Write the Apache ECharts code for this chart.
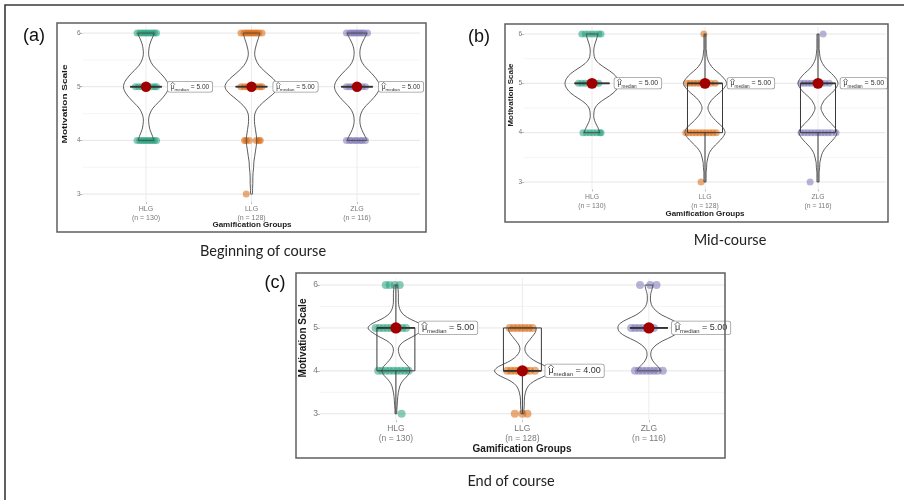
<!DOCTYPE html>
<html><head><meta charset="utf-8">
<script src="https://cdn.jsdelivr.net/npm/echarts@6/dist/echarts.min.js"></script>
<style>html,body{margin:0;padding:0;background:#fff}#c{width:904px;height:500px}</style>
</head><body><div id="c"></div>
<script>
// ---------------- data ----------------
const categories = ['HLG', 'LLG', 'ZLG'];
const nLabels = ['(n = 130)', '(n = 128)', '(n = 116)'];
const yTicks = [3, 4, 5, 6];
const yMinor = [3.5, 4.5, 5.5];
const panelLetters = ['(a)', '(b)', '(c)'];
const captions = ['Beginning of course', 'Mid-course', 'End of course'];
const xTitle = 'Gamification Groups';
const yTitle = 'Motivation Scale';

// medians, box quartiles, whisker ends per group (HLG, LLG, ZLG)
const medianA = [5, 5, 5];
const medianB = [5, 5, 5];
const medianC = [5, 4, 5];
const q1A = [5, 5, 5], q3A = [5, 5, 5], whiskLowA = [5, 5, 5], whiskHighA = [5, 5, 5];
const q1B = [5, 4, 4], q3B = [5, 5, 5], whiskLowB = [5, 3, 3], whiskHighB = [5, 6, 6];
const q1C = [4, 4, 5], q3C = [5, 5, 5], whiskLowC = [3, 3, 5], whiskHighC = [6, 5, 5];

// violin density levels (relative width, % of panel max) at these y values
const violinY = [3.0,3.1,3.2,3.3,3.4,3.5,3.6,3.7,3.8,3.9,4.0,4.1,4.2,4.3,4.4,4.5,4.6,4.7,4.8,4.9,5.0,5.1,5.2,5.3,5.4,5.5,5.6,5.7,5.8,5.9,6.0];
const violinA_HLG = [null,null,null,null,null,null,null,null,null,null,30,23,15,11,10,15,26,45,64,79,85,79,64,45,26,15,10,11,15,23,32];
const violinA_LLG = [4,4,5,5,6,8,9,12,15,18,20,18,15,12,11,13,23,42,66,89,100,91,70,47,28,17,12,14,19,26,31];
const violinA_ZLG = [null,null,null,null,null,null,null,null,null,null,38,28,18,12,11,15,26,45,64,79,85,79,64,45,26,15,11,12,18,28,38];
const violinB_HLG = [null,null,null,null,null,null,null,null,null,null,30,22,13,7,7,11,26,52,78,94,100,94,78,52,26,11,7,7,11,17,22];
const violinB_LLG = [4,4,4,6,7,11,17,30,48,65,74,67,48,30,17,11,17,31,52,70,80,70,52,31,17,9,6,4,4,4,4];
const violinB_ZLG = [4,4,4,6,7,11,17,29,46,62,70,63,46,29,17,11,17,30,50,66,74,66,50,30,17,9,6,4,4,4,4];
const violinC_HLG = [3,3,4,5,6,8,11,16,26,39,45,40,27,16,10,8,13,29,55,77,90,77,48,26,15,10,8,8,8,7,6];
const violinC_LLG = [5,5,6,6,7,10,15,26,48,77,90,77,48,26,13,8,11,21,32,42,45,null,null,null,null,null,null,null,null,null,null];
const violinC_ZLG = [null,null,null,null,null,null,null,null,null,null,39,29,16,8,6,10,23,45,74,94,100,94,71,42,23,11,6,5,6,10,13];

const dotsA_HLG = [[6,[-0.085,-0.06,-0.04,-0.02,0,0.02,0.04,0.06,0.08,0.1]],[5,[-0.1,-0.07,-0.04,-0.01,0.02,0.05,0.08,0.1]],[4,[-0.085,-0.06,-0.04,-0.02,0,0.02,0.04,0.06,0.08,0.1]]];
const dotsA_LLG = [[6,[-0.1,-0.07,-0.05,-0.03,-0.01,0.01,0.03,0.05,0.07,0.1]],[5,[-0.1,-0.07,-0.04,-0.01,0.02,0.05,0.08,0.1]],[4,[-0.066,-0.05,-0.02,0.045,0.07,0.083]],[3,[-0.05]]];
const dotsA_ZLG = [[6,[-0.1,-0.07,-0.05,-0.03,-0.01,0.01,0.03,0.05,0.07,0.1]],[5,[-0.1,-0.07,-0.04,-0.01,0.02,0.05,0.08]],[4,[-0.1,-0.07,-0.05,-0.02,0,0.03,0.05,0.08]]];
const dotsB_HLG = [[6,[-0.09,-0.06,-0.03,0,0.03,0.06,0.08]],[5,[-0.12,-0.09,-0.06,-0.03,0,0.03,0.06]],[4,[-0.08,-0.05,-0.02,0.01,0.04,0.07,0.08]]];
const dotsB_LLG = [[6,[-0.01]],[5,[-0.16,-0.13,-0.1,-0.07,-0.04,-0.01,0.02,0.05,0.09]],[4,[-0.17,-0.14,-0.11,-0.08,-0.05,-0.02,0.01,0.04,0.07,0.1]],[3,[-0.035]]];
const dotsB_ZLG = [[6,[0.045]],[5,[-0.15,-0.12,-0.09,-0.06,-0.03,0,0.03,0.06,0.1]],[4,[-0.15,-0.12,-0.09,-0.06,-0.03,0,0.03,0.06,0.09,0.12,0.16]],[3,[-0.07]]];
const dotsC_HLG = [[6,[-0.08,-0.05,-0.01,0.03]],[5,[-0.16,-0.13,-0.1,-0.07,-0.04,-0.01,0.02,0.05,0.08]],[4,[-0.14,-0.11,-0.08,-0.05,-0.02,0.01,0.04,0.07,0.1]],[3,[0.045]]];
const dotsC_LLG = [[5,[-0.1,-0.07,-0.04,-0.01,0.02,0.05,0.08]],[4,[-0.12,-0.09,-0.06,-0.03,0,0.03,0.06,0.1]],[3,[-0.06,0,0.04]]];
const dotsC_ZLG = [[6,[-0.07,0.01,0.06]],[5,[-0.14,-0.11,-0.08,-0.05,-0.02,0.01,0.04]],[4,[-0.11,-0.08,-0.05,-0.02,0.01,0.04,0.07,0.11]]];

// ---------------- assembly ----------------
const panels = [
  {med: medianA, q1: q1A, q3: q3A, wl: whiskLowA, wh: whiskHighA, vio: [violinA_HLG, violinA_LLG, violinA_ZLG], dots: [dotsA_HLG, dotsA_LLG, dotsA_ZLG]},
  {med: medianB, q1: q1B, q3: q3B, wl: whiskLowB, wh: whiskHighB, vio: [violinB_HLG, violinB_LLG, violinB_ZLG], dots: [dotsB_HLG, dotsB_LLG, dotsB_ZLG]},
  {med: medianC, q1: q1C, q3: q3C, wl: whiskLowC, wh: whiskHighC, vio: [violinC_HLG, violinC_LLG, violinC_ZLG], dots: [dotsC_HLG, dotsC_LLG, dotsC_ZLG]}
];
const layout = [
  {grid: {left: 82.7, top: 25, width: 337.6, height: 177.1}, frame: [57, 23, 369, 209], maxHW: 0.251, boxHW: 0.15, dotR: 3.5, midR: 5.2, gap: 6, f: 6.5, xf: 7, lh: 8.5, lm: 3, lf: 6.6,
   letter: [34, 36], cap: [263, 251], xt: [252, 225], yt: [65, 104], tf: 8, ys: 1.25},
  {grid: {left: 524.2, top: 26.6, width: 361.6, height: 162.8}, frame: [505, 24, 383, 198], maxHW: 0.239, boxHW: 0.155, dotR: 3.5, midR: 5.4, gap: 5, f: 6.5, xf: 6.8, lh: 9, lm: 3, lf: 7,
   letter: [479, 37], cap: [730, 240], xt: [705, 214], yt: [511, 95], tf: 8, ys: 1},
  {grid: {left: 320, top: 278.6, width: 404.8, height: 141.6}, frame: [296, 273, 429, 185], maxHW: 0.245, boxHW: 0.15, dotR: 4, midR: 5.6, gap: 4, f: 8.5, xf: 8.5, lh: 9.5, lm: 4, lf: 9,
   letter: [275, 283], cap: [511, 481], xt: [522, 449], yt: [303, 338], tf: 10, ys: 1}
];
const colors = ['#1B9E77', '#D95F02', '#7570B3'];
const FONT = 'Liberation Sans, Arial, sans-serif';

const grids = [], xAxes = [], yAxes = [], series = [], graphics = [];

graphics.push({type: 'rect', shape: {x: 5, y: 5, width: 1000, height: 1000}, style: {fill: 'none', stroke: '#3a3a3a', lineWidth: 1.6}, silent: true});

layout.forEach((L, pi) => {
  const P = panels[pi];
  grids.push(Object.assign({}, L.grid));
  xAxes.push({
    gridIndex: pi, type: 'value', min: 0.4, max: 3.6,
    axisLine: {show: false},
    axisTick: {show: true, customValues: [1, 2, 3], length: 2, lineStyle: {color: '#aaa', width: 0.8}},
    axisLabel: {customValues: [1, 2, 3], formatter: v => categories[Math.round(v) - 1] + '\n' + nLabels[Math.round(v) - 1],
      color: '#7a7a7a', fontSize: L.xf, lineHeight: L.lh, margin: L.lm, fontFamily: FONT},
    splitLine: {show: false}
  });
  yAxes.push({
    gridIndex: pi, type: 'value', min: 2.85, max: 6.15,
    axisLine: {show: false},
    axisTick: {show: true, customValues: yTicks, length: 3, lineStyle: {color: '#aaa', width: 0.8}},
    axisLabel: {customValues: yTicks, color: '#7a7a7a', fontSize: L.f, margin: 2, fontFamily: FONT},
    splitLine: {show: false}
  });
  // background grid lines
  series.push({
    type: 'custom', xAxisIndex: pi, yAxisIndex: pi, silent: true, z: 1,
    data: [[1, 5]],
    renderItem: (params, api) => {
      const cs = params.coordSys;
      const ch = [];
      yMinor.forEach(v => { const y = api.coord([1, v])[1];
        ch.push({type: 'line', shape: {x1: cs.x, y1: y, x2: cs.x + cs.width, y2: y}, style: {stroke: '#f1f1f1', lineWidth: 0.8}}); });
      yTicks.forEach(v => { const y = api.coord([1, v])[1];
        ch.push({type: 'line', shape: {x1: cs.x, y1: y, x2: cs.x + cs.width, y2: y}, style: {stroke: '#e6e6e6', lineWidth: 1}}); });
      categories.forEach((c, i) => { const x = api.coord([i + 1, 5])[0];
        ch.push({type: 'line', shape: {x1: x, y1: cs.y, x2: x, y2: cs.y + cs.height}, style: {stroke: '#ececec', lineWidth: 1}}); });
      return {type: 'group', children: ch};
    }
  });
  // violins, boxes, points, medians
  series.push({
    type: 'custom', xAxisIndex: pi, yAxisIndex: pi, silent: true, z: 2,
    data: categories.map((c, i) => [i + 1, P.med[i]]),
    encode: {x: 0, y: 1},
    renderItem: (params, api) => {
      const gi = params.dataIndex;
      const xc = api.value(0);
      const ch = [];
      // jittered points
      P.dots[gi].forEach(([lv, offs]) => offs.forEach(dx => {
        const p = api.coord([xc + dx, lv]);
        ch.push({type: 'circle', shape: {cx: p[0], cy: p[1], r: L.dotR}, style: {fill: colors[gi], opacity: 0.52}});
      }));
      // violin outline
      const dens = P.vio[gi];
      const pts = [];
      violinY.forEach((yv, k) => { if (dens[k] != null) pts.push([yv, dens[k] / 100 * L.maxHW]); });
      const right = pts.map(p => api.coord([xc + p[1], p[0]]));
      const left = pts.map(p => api.coord([xc - p[1], p[0]]));
      const vs = {fill: 'none', stroke: '#4a4a4a', lineWidth: 0.9};
      ch.push({type: 'polyline', shape: {points: right, smooth: 0.35}, style: vs});
      ch.push({type: 'polyline', shape: {points: left, smooth: 0.35}, style: vs});
      const n = pts.length - 1;
      ch.push({type: 'line', shape: {x1: left[0][0], y1: left[0][1], x2: right[0][0], y2: right[0][1]}, style: vs});
      ch.push({type: 'line', shape: {x1: left[n][0], y1: left[n][1], x2: right[n][0], y2: right[n][1]}, style: vs});
      // box + whiskers
      const bs = {fill: 'none', stroke: '#3a3a3a', lineWidth: 1};
      const b1 = api.coord([xc - L.boxHW, P.q3[gi]]), b2 = api.coord([xc + L.boxHW, P.q1[gi]]);
      ch.push({type: 'rect', shape: {x: b1[0], y: b1[1], width: b2[0] - b1[0], height: Math.max(b2[1] - b1[1], 0)}, style: bs});
      const cq1 = api.coord([xc, P.q1[gi]]), cq3 = api.coord([xc, P.q3[gi]]);
      const cwl = api.coord([xc, P.wl[gi]]), cwh = api.coord([xc, P.wh[gi]]);
      ch.push({type: 'line', shape: {x1: cq1[0], y1: cq1[1], x2: cwl[0], y2: cwl[1]}, style: bs});
      ch.push({type: 'line', shape: {x1: cq3[0], y1: cq3[1], x2: cwh[0], y2: cwh[1]}, style: bs});
      const m1 = api.coord([xc - L.boxHW, P.med[gi]]), m2 = api.coord([xc + L.boxHW, P.med[gi]]);
      ch.push({type: 'line', shape: {x1: m1[0], y1: m1[1], x2: m2[0], y2: m2[1]}, style: {stroke: '#333', lineWidth: 1.8}});
      // median point
      const mp = api.coord([xc, P.med[gi]]);
      ch.push({type: 'circle', shape: {cx: mp[0], cy: mp[1], r: L.midR}, style: {fill: '#A00000'}});
      // label  mu-hat_median = x.xx
      const fm = L.lf, fs = L.lf * 0.66;
      const lhm = fm * 1.15, subDrop = fs * 0.35;
      const pt = 1.6, pb = 0.8, pl = 3;
      const lineH = lhm + subDrop;
      const lx = m2[0] + L.gap;
      ch.push({type: 'text', x: lx, y: mp[1], z2: 5, style: {
        text: '{m|μ}{s|median}{v| = ' + P.med[gi].toFixed(2) + '}',
        rich: {
          m: {fontSize: fm, lineHeight: lhm, verticalAlign: 'top', fill: '#333', fontFamily: FONT},
          s: {fontSize: fs, lineHeight: fs * 1.15, padding: [lhm - fs * 1.15 + subDrop, 0, 0, 0], verticalAlign: 'top', fill: '#333', fontFamily: FONT},
          v: {fontSize: fm, lineHeight: lhm, verticalAlign: 'top', fill: '#333', fontFamily: FONT}
        },
        align: 'left', verticalAlign: 'middle',
        backgroundColor: '#fff', borderColor: '#9a9a9a', borderWidth: 0.8, borderRadius: 2, padding: [pt, pl, pb, pl]
      }});
      const boxTop = mp[1] - (pt + pb + lineH) / 2;
      const hx = lx + pl + 0.29 * fm;
      const xTop = boxTop + pt + 0.4 * fm;
      ch.push({type: 'polyline', z2: 6, shape: {points: [[hx - 0.34 * fm, xTop - 0.08 * fm], [hx, xTop - 0.42 * fm], [hx + 0.34 * fm, xTop - 0.08 * fm]]},
        style: {fill: 'none', stroke: '#333', lineWidth: 0.7}});
      return {type: 'group', children: ch};
    }
  });
  // frame and texts
  const fr = L.frame;
  graphics.push({type: 'rect', shape: {x: fr[0], y: fr[1], width: fr[2], height: fr[3]}, style: {fill: 'none', stroke: '#5f5f5f', lineWidth: 1.5}, silent: true, z: 10});
  graphics.push({type: 'text', x: L.letter[0], y: L.letter[1], style: {text: panelLetters[pi], fontSize: 18, fontFamily: FONT, fill: '#111', align: 'center', verticalAlign: 'middle'}});
  graphics.push({type: 'text', x: L.cap[0], y: L.cap[1], style: {text: captions[pi], fontSize: 14.5, fontFamily: 'Lato, Open Sans, sans-serif', fill: '#222', align: 'center', verticalAlign: 'middle'}});
  graphics.push({type: 'text', x: L.xt[0], y: L.xt[1], style: {text: xTitle, fontSize: L.tf, fontWeight: 'bold', fontFamily: FONT, fill: '#1a1a1a', align: 'center', verticalAlign: 'middle'}});
  graphics.push({type: 'text', x: L.yt[0], y: L.yt[1], rotation: Math.PI / 2, scaleX: L.ys, style: {text: yTitle, fontSize: L.tf, fontWeight: 'bold', fontFamily: FONT, fill: '#1a1a1a', align: 'center', verticalAlign: 'middle'}});
});

const chart = echarts.init(document.getElementById('c'), null, {renderer: 'canvas'});
chart.setOption({
  animation: false,
  backgroundColor: '#fff',
  grid: grids, xAxis: xAxes, yAxis: yAxes, series: series, graphic: graphics
});
</script></body></html>
